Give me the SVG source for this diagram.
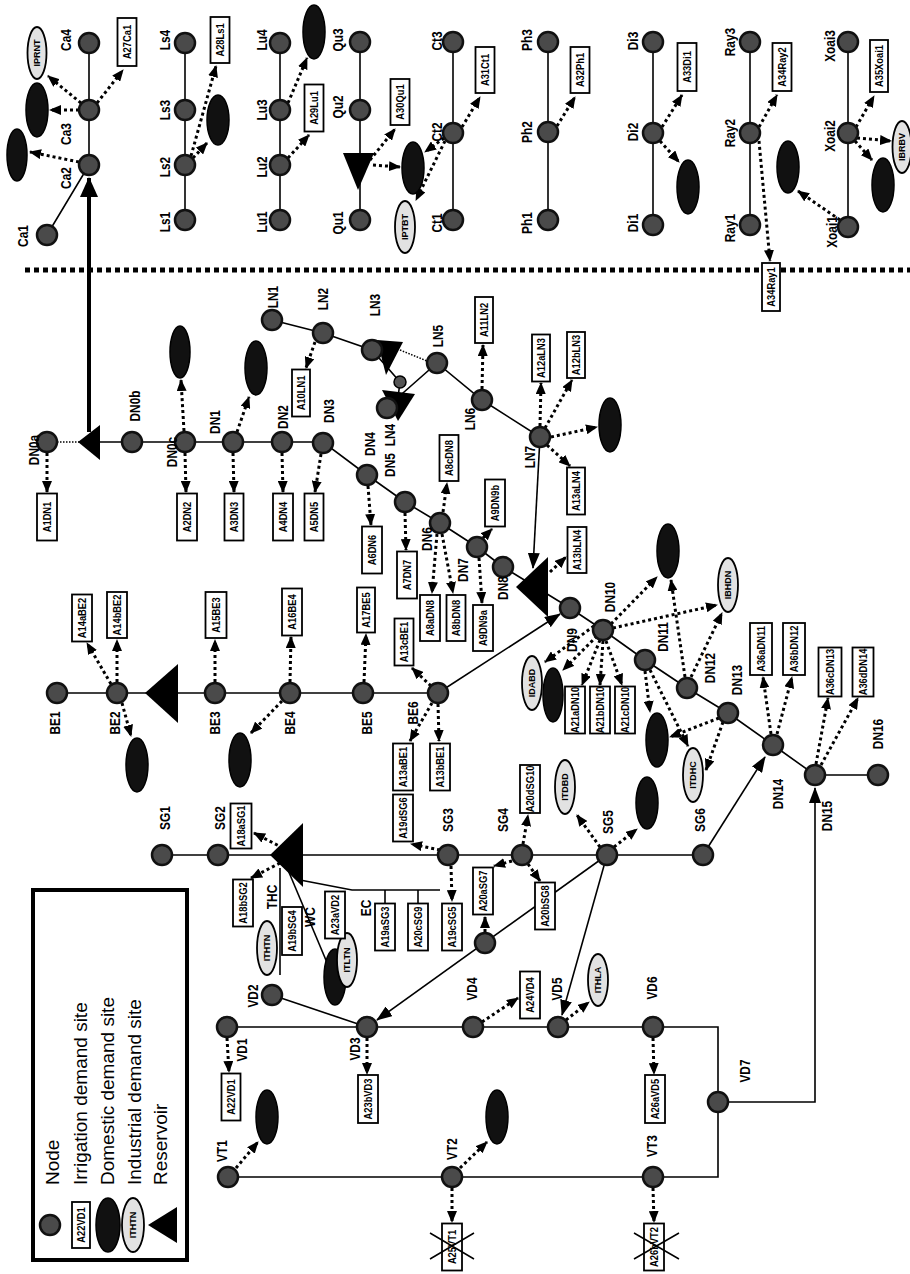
<svg xmlns="http://www.w3.org/2000/svg" width="910" height="1274" viewBox="0 0 910 1274">
<defs>
<style>
.nd{fill:#4a4a4a;stroke:#111;stroke-width:2.5}
.lb{font-family:"Liberation Sans",Arial,sans-serif;font-weight:bold;font-size:14.5px;text-anchor:middle;dominant-baseline:central;fill:#000}
.bx{fill:#fff;stroke:#000;stroke-width:1.8}
.bt{font-family:"Liberation Sans",Arial,sans-serif;font-weight:bold;font-size:11px;text-anchor:middle;dominant-baseline:central}
.dm{fill:#111;stroke:#000;stroke-width:1.5}
.in{fill:#e2e2e2;stroke:#000;stroke-width:1.8}
.it{font-family:"Liberation Sans",Arial,sans-serif;font-weight:bold;font-size:9px;text-anchor:middle;dominant-baseline:central}
.rs{fill:#000}
.ln{stroke:#000;stroke-width:1.6;fill:none}
.la{stroke:#000;stroke-width:1.6;fill:none;marker-end:url(#sa)}
.da{stroke:#000;stroke-width:3;stroke-dasharray:3 3;fill:none;marker-end:url(#dh)}
.th{stroke:#000;stroke-width:1.5;stroke-dasharray:1.5 1.5;fill:none}
.lg{font-family:"Liberation Sans",Arial,sans-serif;font-size:19px;dominant-baseline:central}
.x{stroke:#000;stroke-width:1.5}
</style>
<marker id="dh" markerUnits="userSpaceOnUse" markerWidth="12" markerHeight="10" viewBox="0 0 12 10" refX="11" refY="5" orient="auto"><path d="M0,0 L12,5 L0,10 z"/></marker>
<marker id="sa" markerUnits="userSpaceOnUse" markerWidth="16" markerHeight="12" viewBox="0 0 16 12" refX="15" refY="6" orient="auto"><path d="M0,0 L16,6 L0,12 z"/></marker>
<marker id="ta" markerUnits="userSpaceOnUse" markerWidth="20" markerHeight="18" viewBox="0 0 20 18" refX="19" refY="9" orient="auto"><path d="M0,0 L20,9 L0,18 z"/></marker>
</defs>
<rect width="910" height="1274" fill="#fff"/>

<g id="connectors">
<path class="ln" d="M47,235 L89,165 V43"/>
<path class="ln" d="M185,220 V43"/>
<path class="ln" d="M280,220 V43"/>
<path class="ln" d="M360,220 V42"/>
<path class="ln" d="M453,220 V42"/>
<path class="ln" d="M548,220 V42"/>
<path class="ln" d="M653,225 V42"/>
<path class="ln" d="M750,225 V42"/>
<path class="ln" d="M848,227 V42"/>
<path d="M89,432 V178" stroke="#000" stroke-width="4" fill="none" marker-end="url(#ta)"/>
<path d="M25,270 H910" stroke="#000" stroke-width="5" stroke-dasharray="5 4"/>

<path class="th" d="M57,442 H79"/>
<path class="ln" d="M100,442 H323 L367,475 L405,502 L440,523 L477,547 L503,567 L570,608 L603,630 L645,660 L687,688 L728,713 L773,745 L815,775 H878"/>
<path class="ln" d="M272,320 L323,333 L372,350 L400,382 L397,405"/>
<path class="ln" d="M395,400 L437,363 L482,400 L540,437"/>
<path class="th" d="M400,350 L427,361"/>
<path class="la" d="M540,437 L533,568"/>
<path class="ln" d="M57,693 H438"/>
<path class="la" d="M438,693 L560,614"/>
<path class="ln" d="M162,855 H703"/>
<path class="la" d="M703,855 L765,757"/>
<path class="la" d="M607,855 L562,1015"/>
<path class="la" d="M607,855 L377,1020"/>
<path class="ln" d="M227,1027 H718 V1177 H228"/>
<path class="ln" d="M272,995 L367,1027"/>
<path class="la" d="M718,1102 H815 V788"/>
<path class="ln" d="M280,868 V975"/>
<path class="ln" d="M288,870 L328,965"/>
<path class="ln" d="M300,880 L352,890 H440 M385,890 V903 M418,890 V903"/>

<path class="da" d="M79,162 L30,152"/>
<path class="da" d="M79,110 L50,110"/>
<path class="da" d="M81,103 L48,76"/>
<path class="da" d="M97,103 L123,70"/>
<path class="da" d="M193,158 L207,143"/>
<path class="da" d="M191,156 L216,66"/>
<path class="da" d="M288,103 L307,58"/>
<path class="da" d="M288,158 L309,135"/>
<path class="da" d="M370,160 L395,129"/>
<path class="da" d="M373,165 L400,167"/>
<path class="da" d="M444,138 L425,152"/>
<path class="da" d="M445,141 L416,200"/>
<path class="da" d="M462,127 L480,97"/>
<path class="da" d="M557,126 L575,97"/>
<path class="da" d="M662,127 L682,95"/>
<path class="da" d="M660,141 L679,162"/>
<path class="da" d="M759,127 L777,95"/>
<path class="da" d="M759,141 L770,261"/>
<path class="da" d="M856,127 L874,96"/>
<path class="da" d="M857,138 L891,141"/>
<path class="da" d="M855,141 L872,160"/>
<path class="da" d="M840,220 L798,191"/>

<path class="da" d="M47,453 L47,492"/>
<path class="da" d="M185,453 L186,492"/>
<path class="da" d="M184,431 L181,380"/>
<path class="da" d="M233,453 L234,492"/>
<path class="da" d="M237,432 L249,397"/>
<path class="da" d="M282,453 L283,492"/>
<path class="da" d="M321,454 L315,492"/>
<path class="da" d="M368,486 L371,525"/>
<path class="da" d="M405,513 L406,550"/>
<path class="da" d="M443,512 L447,483"/>
<path class="da" d="M437,534 L432,593"/>
<path class="da" d="M442,534 L453,593"/>
<path class="da" d="M483,538 L492,529"/>
<path class="da" d="M479,558 L482,603"/>
<path class="da" d="M315,342 L306,368"/>
<path class="da" d="M482,389 L483,345"/>
<path class="da" d="M540,426 L541,383"/>
<path class="da" d="M545,428 L572,380"/>
<path class="da" d="M551,437 L597,427"/>
<path class="da" d="M547,445 L570,466"/>
<path class="da" d="M550,572 L566,557"/>

<path class="da" d="M111,684 L87,643"/>
<path class="da" d="M117,682 L117,640"/>
<path class="da" d="M122,703 L131,736"/>
<path class="da" d="M215,682 L215,640"/>
<path class="da" d="M290,682 L291,637"/>
<path class="da" d="M282,701 L251,733"/>
<path class="da" d="M364,682 L366,634"/>
<path class="da" d="M431,686 L412,668"/>
<path class="da" d="M432,703 L410,741"/>
<path class="da" d="M438,704 L439,741"/>

<path class="da" d="M283,848 L254,833"/>
<path class="da" d="M280,863 L251,878"/>
<path class="da" d="M440,850 L411,844"/>
<path class="da" d="M451,866 L452,901"/>
<path class="da" d="M523,844 L528,815"/>
<path class="da" d="M512,861 L494,866"/>
<path class="da" d="M528,864 L540,881"/>
<path class="da" d="M485,932 L485,917"/>
<path class="da" d="M600,847 L577,815"/>
<path class="da" d="M614,847 L637,829"/>

<path class="da" d="M611,624 L657,577"/>
<path class="da" d="M613,628 L717,605"/>
<path class="da" d="M685,677 L671,580"/>
<path class="da" d="M691,677 L722,613"/>
<path class="da" d="M594,626 L545,662"/>
<path class="da" d="M597,636 L563,670"/>
<path class="da" d="M600,640 L582,685"/>
<path class="da" d="M603,641 L600,685"/>
<path class="da" d="M606,641 L622,685"/>
<path class="da" d="M645,671 L650,712"/>
<path class="da" d="M719,718 L670,737"/>
<path class="da" d="M650,670 L688,746"/>
<path class="da" d="M723,722 L706,770"/>
<path class="da" d="M771,734 L763,677"/>
<path class="da" d="M777,734 L792,677"/>
<path class="da" d="M816,764 L828,698"/>
<path class="da" d="M821,765 L858,698"/>

<path class="da" d="M227,1038 L229,1072"/>
<path class="da" d="M236,1168 L258,1142"/>
<path class="da" d="M367,1038 L367,1074"/>
<path class="da" d="M482,1022 L518,998"/>
<path class="da" d="M566,1020 L589,1002"/>
<path class="da" d="M460,1168 L487,1142"/>
<path class="da" d="M452,1188 L452,1222"/>
<path class="da" d="M653,1038 L654,1074"/>
<path class="da" d="M653,1188 L654,1222"/>
</g>

<g id="reservoirs">
<polygon id="res-Qu" class="rs" points="343,153 374,153 358,190"/>
<polygon id="res-DN0" class="rs" points="78,442 100,425 100,460"/>
<polygon id="res-LN3" class="rs" points="377,340 403,342 386,375"/>
<polygon id="res-LN4" class="rs" points="382,390 415,394 398,421"/>
<polygon id="res-DN8" class="rs" points="516,587 548,557 548,617"/>
<polygon id="res-BE" class="rs" points="145,693 178,664 178,723"/>
<polygon id="res-SG" class="rs" points="270,855 303,823 303,887"/>
<circle cx="400" cy="382" r="6" fill="#555" stroke="#000" stroke-width="1.5"/>
</g>

<g id="nodes">
<g id="Ca1"><circle class="nd" cx="47" cy="235" r="10"/><text class="lb" transform="translate(23,236) rotate(-90) scale(.82,1)">Ca1</text></g>
<g id="Ca2"><circle class="nd" cx="89" cy="165" r="10"/><text class="lb" transform="translate(66,178) rotate(-90) scale(.82,1)">Ca2</text></g>
<g id="Ca3"><circle class="nd" cx="89" cy="110" r="10"/><text class="lb" transform="translate(66,134) rotate(-90) scale(.82,1)">Ca3</text></g>
<g id="Ca4"><circle class="nd" cx="89" cy="43" r="10"/><text class="lb" transform="translate(66,40) rotate(-90) scale(.82,1)">Ca4</text></g>
<g id="Ls1"><circle class="nd" cx="185" cy="220" r="10"/><text class="lb" transform="translate(165,222) rotate(-90) scale(.82,1)">Ls1</text></g>
<g id="Ls2"><circle class="nd" cx="185" cy="165" r="10"/><text class="lb" transform="translate(165,167) rotate(-90) scale(.82,1)">Ls2</text></g>
<g id="Ls3"><circle class="nd" cx="185" cy="110" r="10"/><text class="lb" transform="translate(165,110) rotate(-90) scale(.82,1)">Ls3</text></g>
<g id="Ls4"><circle class="nd" cx="185" cy="43" r="10"/><text class="lb" transform="translate(165,40) rotate(-90) scale(.82,1)">Ls4</text></g>
<g id="Lu1"><circle class="nd" cx="280" cy="220" r="10"/><text class="lb" transform="translate(262,222) rotate(-90) scale(.82,1)">Lu1</text></g>
<g id="Lu2"><circle class="nd" cx="280" cy="165" r="10"/><text class="lb" transform="translate(262,167) rotate(-90) scale(.82,1)">Lu2</text></g>
<g id="Lu3"><circle class="nd" cx="280" cy="110" r="10"/><text class="lb" transform="translate(262,110) rotate(-90) scale(.82,1)">Lu3</text></g>
<g id="Lu4"><circle class="nd" cx="280" cy="43" r="10"/><text class="lb" transform="translate(262,40) rotate(-90) scale(.82,1)">Lu4</text></g>
<g id="Qu1"><circle class="nd" cx="360" cy="220" r="10"/><text class="lb" transform="translate(338,223) rotate(-90) scale(.82,1)">Qu1</text></g>
<g id="Qu2"><circle class="nd" cx="360" cy="110" r="10"/><text class="lb" transform="translate(338,107) rotate(-90) scale(.82,1)">Qu2</text></g>
<g id="Qu3"><circle class="nd" cx="360" cy="42" r="10"/><text class="lb" transform="translate(338,40) rotate(-90) scale(.82,1)">Qu3</text></g>
<g id="Ct1"><circle class="nd" cx="453" cy="220" r="10"/><text class="lb" transform="translate(437,223) rotate(-90) scale(.82,1)">Ct1</text></g>
<g id="Ct2"><circle class="nd" cx="453" cy="133" r="10"/><text class="lb" transform="translate(437,132) rotate(-90) scale(.82,1)">Ct2</text></g>
<g id="Ct3"><circle class="nd" cx="453" cy="42" r="10"/><text class="lb" transform="translate(437,41) rotate(-90) scale(.82,1)">Ct3</text></g>
<g id="Ph1"><circle class="nd" cx="548" cy="220" r="10"/><text class="lb" transform="translate(527,223) rotate(-90) scale(.82,1)">Ph1</text></g>
<g id="Ph2"><circle class="nd" cx="548" cy="132" r="10"/><text class="lb" transform="translate(527,132) rotate(-90) scale(.82,1)">Ph2</text></g>
<g id="Ph3"><circle class="nd" cx="548" cy="42" r="10"/><text class="lb" transform="translate(527,40) rotate(-90) scale(.82,1)">Ph3</text></g>
<g id="Di1"><circle class="nd" cx="653" cy="225" r="10"/><text class="lb" transform="translate(633,223) rotate(-90) scale(.82,1)">Di1</text></g>
<g id="Di2"><circle class="nd" cx="653" cy="133" r="10"/><text class="lb" transform="translate(633,132) rotate(-90) scale(.82,1)">Di2</text></g>
<g id="Di3"><circle class="nd" cx="653" cy="42" r="10"/><text class="lb" transform="translate(633,41) rotate(-90) scale(.82,1)">Di3</text></g>
<g id="Ray1"><circle class="nd" cx="750" cy="225" r="10"/><text class="lb" transform="translate(730,228) rotate(-90) scale(.82,1)">Ray1</text></g>
<g id="Ray2"><circle class="nd" cx="750" cy="133" r="10"/><text class="lb" transform="translate(730,133) rotate(-90) scale(.82,1)">Ray2</text></g>
<g id="Ray3"><circle class="nd" cx="750" cy="42" r="10"/><text class="lb" transform="translate(730,42) rotate(-90) scale(.82,1)">Ray3</text></g>
<g id="Xoai1"><circle class="nd" cx="848" cy="227" r="10"/><text class="lb" transform="translate(832,232) rotate(-90) scale(.82,1)">Xoai1</text></g>
<g id="Xoai2"><circle class="nd" cx="848" cy="133" r="10"/><text class="lb" transform="translate(830,136) rotate(-90) scale(.82,1)">Xoai2</text></g>
<g id="Xoai3"><circle class="nd" cx="848" cy="42" r="10"/><text class="lb" transform="translate(830,46) rotate(-90) scale(.82,1)">Xoai3</text></g>

<g id="DN0a"><circle class="nd" cx="47" cy="442" r="10"/><text class="lb" transform="translate(34,450) rotate(-90) scale(.82,1)">DN0a</text></g>
<g id="DN0b"><circle class="nd" cx="132" cy="442" r="10"/><text class="lb" transform="translate(135,406) rotate(-90) scale(.82,1)">DN0b</text></g>
<g id="DN0c"><circle class="nd" cx="185" cy="442" r="10"/><text class="lb" transform="translate(172,452) rotate(-90) scale(.82,1)">DN0c</text></g>
<g id="DN1"><circle class="nd" cx="233" cy="442" r="10"/><text class="lb" transform="translate(215,422) rotate(-90) scale(.82,1)">DN1</text></g>
<g id="DN2"><circle class="nd" cx="282" cy="442" r="10"/><text class="lb" transform="translate(283,417) rotate(-90) scale(.82,1)">DN2</text></g>
<g id="DN3"><circle class="nd" cx="323" cy="443" r="10"/><text class="lb" transform="translate(329,411) rotate(-90) scale(.82,1)">DN3</text></g>
<g id="DN4"><circle class="nd" cx="367" cy="475" r="10"/><text class="lb" transform="translate(370,444) rotate(-90) scale(.82,1)">DN4</text></g>
<g id="DN5"><circle class="nd" cx="405" cy="502" r="10"/><text class="lb" transform="translate(390,465) rotate(-90) scale(.82,1)">DN5</text></g>
<g id="DN6"><circle class="nd" cx="440" cy="523" r="10"/><text class="lb" transform="translate(427,539) rotate(-90) scale(.82,1)">DN6</text></g>
<g id="DN7"><circle class="nd" cx="477" cy="547" r="10"/><text class="lb" transform="translate(463,570) rotate(-90) scale(.82,1)">DN7</text></g>
<g id="DN8"><circle class="nd" cx="503" cy="567" r="10"/><text class="lb" transform="translate(503,588) rotate(-90) scale(.82,1)">DN8</text></g>
<g id="DN9"><circle class="nd" cx="570" cy="608" r="10"/><text class="lb" transform="translate(572,640) rotate(-90) scale(.82,1)">DN9</text></g>
<g id="DN10"><circle class="nd" cx="603" cy="630" r="10"/><text class="lb" transform="translate(610,597) rotate(-90) scale(.82,1)">DN10</text></g>
<g id="DN11"><circle class="nd" cx="645" cy="660" r="10"/><text class="lb" transform="translate(663,637) rotate(-90) scale(.82,1)">DN11</text></g>
<g id="DN12"><circle class="nd" cx="687" cy="688" r="10"/><text class="lb" transform="translate(710,668) rotate(-90) scale(.82,1)">DN12</text></g>
<g id="DN13"><circle class="nd" cx="728" cy="713" r="10"/><text class="lb" transform="translate(737,680) rotate(-90) scale(.82,1)">DN13</text></g>
<g id="DN14"><circle class="nd" cx="773" cy="745" r="10"/><text class="lb" transform="translate(778,794) rotate(-90) scale(.82,1)">DN14</text></g>
<g id="DN15"><circle class="nd" cx="815" cy="775" r="10"/><text class="lb" transform="translate(827,816) rotate(-90) scale(.82,1)">DN15</text></g>
<g id="DN16"><circle class="nd" cx="878" cy="775" r="10"/><text class="lb" transform="translate(878,734) rotate(-90) scale(.82,1)">DN16</text></g>

<g id="LN1"><circle class="nd" cx="272" cy="320" r="10"/><text class="lb" transform="translate(273,297) rotate(-90) scale(.82,1)">LN1</text></g>
<g id="LN2"><circle class="nd" cx="323" cy="333" r="10"/><text class="lb" transform="translate(323,299) rotate(-90) scale(.82,1)">LN2</text></g>
<g id="LN3"><circle class="nd" cx="372" cy="350" r="10"/><text class="lb" transform="translate(375,305) rotate(-90) scale(.82,1)">LN3</text></g>
<g id="LN4"><circle class="nd" cx="387" cy="408" r="10"/><text class="lb" transform="translate(390,435) rotate(-90) scale(.82,1)">LN4</text></g>
<g id="LN5"><circle class="nd" cx="437" cy="363" r="10"/><text class="lb" transform="translate(438,336) rotate(-90) scale(.82,1)">LN5</text></g>
<g id="LN6"><circle class="nd" cx="482" cy="400" r="10"/><text class="lb" transform="translate(470,419) rotate(-90) scale(.82,1)">LN6</text></g>
<g id="LN7"><circle class="nd" cx="540" cy="437" r="10"/><text class="lb" transform="translate(530,457) rotate(-90) scale(.82,1)">LN7</text></g>

<g id="BE1"><circle class="nd" cx="57" cy="693" r="10"/><text class="lb" transform="translate(55,723) rotate(-90) scale(.82,1)">BE1</text></g>
<g id="BE2"><circle class="nd" cx="117" cy="693" r="10"/><text class="lb" transform="translate(115,723) rotate(-90) scale(.82,1)">BE2</text></g>
<g id="BE3"><circle class="nd" cx="215" cy="693" r="10"/><text class="lb" transform="translate(215,723) rotate(-90) scale(.82,1)">BE3</text></g>
<g id="BE4"><circle class="nd" cx="290" cy="693" r="10"/><text class="lb" transform="translate(290,723) rotate(-90) scale(.82,1)">BE4</text></g>
<g id="BE5"><circle class="nd" cx="363" cy="693" r="10"/><text class="lb" transform="translate(367,723) rotate(-90) scale(.82,1)">BE5</text></g>
<g id="BE6"><circle class="nd" cx="438" cy="693" r="10"/><text class="lb" transform="translate(413,713) rotate(-90) scale(.82,1)">BE6</text></g>

<g id="SG1"><circle class="nd" cx="162" cy="855" r="10"/><text class="lb" transform="translate(165,818) rotate(-90) scale(.82,1)">SG1</text></g>
<g id="SG2"><circle class="nd" cx="218" cy="855" r="10"/><text class="lb" transform="translate(220,818) rotate(-90) scale(.82,1)">SG2</text></g>
<g id="SG3"><circle class="nd" cx="448" cy="855" r="10"/><text class="lb" transform="translate(448,820) rotate(-90) scale(.82,1)">SG3</text></g>
<g id="SG4"><circle class="nd" cx="522" cy="855" r="10"/><text class="lb" transform="translate(503,820) rotate(-90) scale(.82,1)">SG4</text></g>
<g id="SG5"><circle class="nd" cx="607" cy="855" r="10"/><text class="lb" transform="translate(608,822) rotate(-90) scale(.82,1)">SG5</text></g>
<g id="SG6"><circle class="nd" cx="703" cy="855" r="10"/><text class="lb" transform="translate(700,820) rotate(-90) scale(.82,1)">SG6</text></g>
<g id="SGX"><circle class="nd" cx="485" cy="943" r="10"/></g>
<g id="THC"><text class="lb" transform="translate(272,897) rotate(-90) scale(.82,1)">THC</text></g>
<g id="WC"><text class="lb" transform="translate(310,917) rotate(-90) scale(.82,1)">WC</text></g>
<g id="EC"><text class="lb" transform="translate(366,908) rotate(-90) scale(.82,1)">EC</text></g>

<g id="VD1"><circle class="nd" cx="227" cy="1027" r="10"/><text class="lb" transform="translate(242,1050) rotate(-90) scale(.82,1)">VD1</text></g>
<g id="VD2"><circle class="nd" cx="272" cy="995" r="10"/><text class="lb" transform="translate(253,996) rotate(-90) scale(.82,1)">VD2</text></g>
<g id="VD3"><circle class="nd" cx="367" cy="1027" r="10"/><text class="lb" transform="translate(355,1049) rotate(-90) scale(.82,1)">VD3</text></g>
<g id="VD4"><circle class="nd" cx="473" cy="1027" r="10"/><text class="lb" transform="translate(472,989) rotate(-90) scale(.82,1)">VD4</text></g>
<g id="VD5"><circle class="nd" cx="558" cy="1027" r="10"/><text class="lb" transform="translate(557,989) rotate(-90) scale(.82,1)">VD5</text></g>
<g id="VD6"><circle class="nd" cx="653" cy="1027" r="10"/><text class="lb" transform="translate(652,988) rotate(-90) scale(.82,1)">VD6</text></g>
<g id="VD7"><circle class="nd" cx="718" cy="1102" r="10"/><text class="lb" transform="translate(745,1071) rotate(-90) scale(.82,1)">VD7</text></g>
<g id="VT1"><circle class="nd" cx="228" cy="1177" r="10"/><text class="lb" transform="translate(222,1151) rotate(-90) scale(.82,1)">VT1</text></g>
<g id="VT2"><circle class="nd" cx="452" cy="1177" r="10"/><text class="lb" transform="translate(452,1149) rotate(-90) scale(.82,1)">VT2</text></g>
<g id="VT3"><circle class="nd" cx="653" cy="1177" r="10"/><text class="lb" transform="translate(652,1146) rotate(-90) scale(.82,1)">VT3</text></g>
</g>

<g id="domestic">
<ellipse class="dm" cx="17" cy="155" rx="10" ry="26"/>
<ellipse class="dm" cx="37" cy="110" rx="11" ry="27"/>
<ellipse class="dm" cx="218" cy="120" rx="11" ry="25"/>
<ellipse class="dm" cx="314" cy="32" rx="11" ry="27"/>
<ellipse class="dm" cx="413" cy="168" rx="11" ry="26"/>
<ellipse class="dm" cx="688" cy="187" rx="11" ry="27"/>
<ellipse class="dm" cx="788" cy="167" rx="11" ry="26"/>
<ellipse class="dm" cx="883" cy="185" rx="11" ry="27"/>
<ellipse class="dm" cx="180" cy="352" rx="10" ry="26"/>
<ellipse class="dm" cx="256" cy="368" rx="11" ry="27"/>
<ellipse class="dm" cx="610" cy="425" rx="11" ry="27"/>
<ellipse class="dm" cx="137" cy="765" rx="11" ry="27"/>
<ellipse class="dm" cx="240" cy="760" rx="11" ry="27"/>
<ellipse class="dm" cx="668" cy="551" rx="11" ry="27"/>
<ellipse class="dm" cx="553" cy="695" rx="10" ry="27"/>
<ellipse class="dm" cx="657" cy="740" rx="11" ry="27"/>
<ellipse class="dm" cx="647" cy="803" rx="11" ry="26"/>
<ellipse class="dm" cx="335" cy="977" rx="11" ry="28"/>
<ellipse class="dm" cx="267" cy="1117" rx="11" ry="27"/>
<ellipse class="dm" cx="497" cy="1117" rx="11" ry="27"/>
</g>

<g id="industrial">
<g id="IPRNT" transform="translate(37,53)"><ellipse class="in" rx="9.5" ry="26"/><text class="it" transform="rotate(-90)">IPRNT</text></g>
<g id="IPTBT" transform="translate(405,227)"><ellipse class="in" rx="10" ry="26"/><text class="it" transform="rotate(-90)">IPTBT</text></g>
<g id="IBRBV" transform="translate(902,147)"><ellipse class="in" rx="9.5" ry="26"/><text class="it" transform="rotate(-90)">IBRBV</text></g>
<g id="IBHDN" transform="translate(728,585)"><ellipse class="in" rx="10" ry="27"/><text class="it" transform="rotate(-90)">IBHDN</text></g>
<g id="IDABD" transform="translate(532,683)"><ellipse class="in" rx="10" ry="27"/><text class="it" transform="rotate(-90)">IDABD</text></g>
<g id="ITDHC" transform="translate(693,775)"><ellipse class="in" rx="10" ry="27"/><text class="it" transform="rotate(-90)">ITDHC</text></g>
<g id="ITDBD" transform="translate(565,787)"><ellipse class="in" rx="10" ry="27"/><text class="it" transform="rotate(-90)">ITDBD</text></g>
<g id="ITHTN" transform="translate(267,948)"><ellipse class="in" rx="10" ry="27"/><text class="it" transform="rotate(-90)">ITHTN</text></g>
<g id="ITLTN" transform="translate(347,960)"><ellipse class="in" rx="10" ry="27"/><text class="it" transform="rotate(-90)">ITLTN</text></g>
<g id="ITHLA" transform="translate(598,980)"><ellipse class="in" rx="10" ry="26"/><text class="it" transform="rotate(-90)">ITHLA</text></g>
</g>

<g id="irrigation">
<g transform="translate(127,42)"><rect class="bx" x="-9.5" y="-24" width="19" height="48"/><text class="bt" transform="rotate(-90) scale(.85,1)">A27Ca1</text></g>
<g transform="translate(220,40)"><rect class="bx" x="-9.5" y="-23" width="19" height="46"/><text class="bt" transform="rotate(-90) scale(.85,1)">A28Ls1</text></g>
<g transform="translate(314,108)"><rect class="bx" x="-9.5" y="-23.5" width="19" height="47"/><text class="bt" transform="rotate(-90) scale(.85,1)">A29Lu1</text></g>
<g transform="translate(400,102)"><rect class="bx" x="-9.5" y="-23" width="19" height="46"/><text class="bt" transform="rotate(-90) scale(.85,1)">A30Qu1</text></g>
<g transform="translate(485,70)"><rect class="bx" x="-9.5" y="-23" width="19" height="46"/><text class="bt" transform="rotate(-90) scale(.85,1)">A31Ct1</text></g>
<g transform="translate(580,70)"><rect class="bx" x="-9.5" y="-23" width="19" height="46"/><text class="bt" transform="rotate(-90) scale(.85,1)">A32Ph1</text></g>
<g transform="translate(687,67)"><rect class="bx" x="-9.5" y="-24" width="19" height="48"/><text class="bt" transform="rotate(-90) scale(.85,1)">A33Di1</text></g>
<g transform="translate(782,67)"><rect class="bx" x="-9.5" y="-24" width="19" height="48"/><text class="bt" transform="rotate(-90) scale(.85,1)">A34Ray2</text></g>
<g transform="translate(771,287)"><rect class="bx" x="-9" y="-24" width="18" height="48"/><text class="bt" transform="rotate(-90) scale(.85,1)">A34Ray1</text></g>
<g transform="translate(879,66)"><rect class="bx" x="-9" y="-26" width="18" height="52"/><text class="bt" transform="rotate(-90) scale(.85,1)">A35Xoai1</text></g>
<g transform="translate(47,517)"><rect class="bx" x="-10" y="-23.5" width="20" height="47"/><text class="bt" transform="rotate(-90) scale(.85,1)">A1DN1</text></g>
<g transform="translate(187,517)"><rect class="bx" x="-10" y="-23.5" width="20" height="47"/><text class="bt" transform="rotate(-90) scale(.85,1)">A2DN2</text></g>
<g transform="translate(234,517)"><rect class="bx" x="-9.5" y="-23.5" width="19" height="47"/><text class="bt" transform="rotate(-90) scale(.85,1)">A3DN3</text></g>
<g transform="translate(283,517)"><rect class="bx" x="-10" y="-23.5" width="20" height="47"/><text class="bt" transform="rotate(-90) scale(.85,1)">A4DN4</text></g>
<g transform="translate(314,517)"><rect class="bx" x="-9.5" y="-23.5" width="19" height="47"/><text class="bt" transform="rotate(-90) scale(.85,1)">A5DN5</text></g>
<g transform="translate(372,550)"><rect class="bx" x="-10" y="-23.5" width="20" height="47"/><text class="bt" transform="rotate(-90) scale(.85,1)">A6DN6</text></g>
<g transform="translate(407,575)"><rect class="bx" x="-10" y="-23.5" width="20" height="47"/><text class="bt" transform="rotate(-90) scale(.85,1)">A7DN7</text></g>
<g transform="translate(449,458)"><rect class="bx" x="-9.5" y="-23" width="19" height="46"/><text class="bt" transform="rotate(-90) scale(.85,1)">A8cDN8</text></g>
<g transform="translate(430,618)"><rect class="bx" x="-10" y="-23" width="20" height="46"/><text class="bt" transform="rotate(-90) scale(.85,1)">A8aDN8</text></g>
<g transform="translate(456,618)"><rect class="bx" x="-9.5" y="-23" width="19" height="46"/><text class="bt" transform="rotate(-90) scale(.85,1)">A8bDN8</text></g>
<g transform="translate(495,503)"><rect class="bx" x="-10" y="-23.5" width="20" height="47"/><text class="bt" transform="rotate(-90) scale(.85,1)">A9DN9b</text></g>
<g transform="translate(483,628)"><rect class="bx" x="-10" y="-23" width="20" height="46"/><text class="bt" transform="rotate(-90) scale(.85,1)">A9DN9a</text></g>
<g transform="translate(301,393)"><rect class="bx" x="-9" y="-23.5" width="18" height="47"/><text class="bt" transform="rotate(-90) scale(.85,1)">A10LN1</text></g>
<g transform="translate(484,320)"><rect class="bx" x="-9" y="-23" width="18" height="46"/><text class="bt" transform="rotate(-90) scale(.85,1)">A11LN2</text></g>
<g transform="translate(541,358)"><rect class="bx" x="-9" y="-23.5" width="18" height="47"/><text class="bt" transform="rotate(-90) scale(.85,1)">A12aLN3</text></g>
<g transform="translate(576,355)"><rect class="bx" x="-9" y="-23" width="18" height="46"/><text class="bt" transform="rotate(-90) scale(.85,1)">A12bLN3</text></g>
<g transform="translate(576,491)"><rect class="bx" x="-9" y="-23.5" width="18" height="47"/><text class="bt" transform="rotate(-90) scale(.85,1)">A13aLN4</text></g>
<g transform="translate(577,550)"><rect class="bx" x="-9.5" y="-23" width="19" height="46"/><text class="bt" transform="rotate(-90) scale(.85,1)">A13bLN4</text></g>
<g transform="translate(82,618)"><rect class="bx" x="-10" y="-23.5" width="20" height="47"/><text class="bt" transform="rotate(-90) scale(.85,1)">A14aBE2</text></g>
<g transform="translate(117,615)"><rect class="bx" x="-10" y="-23" width="20" height="46"/><text class="bt" transform="rotate(-90) scale(.85,1)">A14bBE2</text></g>
<g transform="translate(216,615)"><rect class="bx" x="-10.5" y="-23" width="21" height="46"/><text class="bt" transform="rotate(-90) scale(.85,1)">A15BE3</text></g>
<g transform="translate(292,612)"><rect class="bx" x="-10" y="-23.5" width="20" height="47"/><text class="bt" transform="rotate(-90) scale(.85,1)">A16BE4</text></g>
<g transform="translate(366,610)"><rect class="bx" x="-9" y="-22.5" width="18" height="45"/><text class="bt" transform="rotate(-90) scale(.85,1)">A17BE5</text></g>
<g transform="translate(404,642)"><rect class="bx" x="-9.5" y="-23.5" width="19" height="47"/><text class="bt" transform="rotate(-90) scale(.85,1)">A13cBE1</text></g>
<g transform="translate(403,767)"><rect class="bx" x="-10" y="-23.5" width="20" height="47"/><text class="bt" transform="rotate(-90) scale(.85,1)">A13aBE1</text></g>
<g transform="translate(440,767)"><rect class="bx" x="-10" y="-23.5" width="20" height="47"/><text class="bt" transform="rotate(-90) scale(.85,1)">A13bBE1</text></g>
<g transform="translate(241,826)"><rect class="bx" x="-10.5" y="-22.5" width="21" height="45"/><text class="bt" transform="rotate(-90) scale(.85,1)">A18aSG1</text></g>
<g transform="translate(243,903)"><rect class="bx" x="-10" y="-23.5" width="20" height="47"/><text class="bt" transform="rotate(-90) scale(.85,1)">A18bSG2</text></g>
<g transform="translate(403,818)"><rect class="bx" x="-10" y="-23.5" width="20" height="47"/><text class="bt" transform="rotate(-90) scale(.85,1)">A19dSG6</text></g>
<g transform="translate(452,927)"><rect class="bx" x="-10" y="-23.5" width="20" height="47"/><text class="bt" transform="rotate(-90) scale(.85,1)">A19cSG5</text></g>
<g transform="translate(385,927)"><rect class="bx" x="-10" y="-23.5" width="20" height="47"/><text class="bt" transform="rotate(-90) scale(.85,1)">A19aSG3</text></g>
<g transform="translate(418,927)"><rect class="bx" x="-10" y="-23.5" width="20" height="47"/><text class="bt" transform="rotate(-90) scale(.85,1)">A20cSG9</text></g>
<g transform="translate(292,931)"><rect class="bx" x="-10" y="-24" width="20" height="48"/><text class="bt" transform="rotate(-90) scale(.85,1)">A19bSG4</text></g>
<g transform="translate(335,915)"><rect class="bx" x="-10" y="-23.5" width="20" height="47"/><text class="bt" transform="rotate(-90) scale(.85,1)">A23aVD2</text></g>
<g transform="translate(530,789)"><rect class="bx" x="-10" y="-24" width="20" height="48"/><text class="bt" transform="rotate(-90) scale(.85,1)">A20dSG10</text></g>
<g transform="translate(483,891)"><rect class="bx" x="-10" y="-23.5" width="20" height="47"/><text class="bt" transform="rotate(-90) scale(.85,1)">A20aSG7</text></g>
<g transform="translate(545,906)"><rect class="bx" x="-10" y="-23.5" width="20" height="47"/><text class="bt" transform="rotate(-90) scale(.85,1)">A20bSG8</text></g>
<g transform="translate(575,710)"><rect class="bx" x="-10" y="-23.5" width="20" height="47"/><text class="bt" transform="rotate(-90) scale(.85,1)">A21aDN10</text></g>
<g transform="translate(600,710)"><rect class="bx" x="-10" y="-23.5" width="20" height="47"/><text class="bt" transform="rotate(-90) scale(.85,1)">A21bDN10</text></g>
<g transform="translate(625,710)"><rect class="bx" x="-10" y="-23.5" width="20" height="47"/><text class="bt" transform="rotate(-90) scale(.85,1)">A21cDN10</text></g>
<g transform="translate(761,649)"><rect class="bx" x="-11" y="-26" width="22" height="52"/><text class="bt" transform="rotate(-90) scale(.85,1)">A36aDN11</text></g>
<g transform="translate(794,649)"><rect class="bx" x="-11" y="-26" width="22" height="52"/><text class="bt" transform="rotate(-90) scale(.85,1)">A36bDN12</text></g>
<g transform="translate(830,672)"><rect class="bx" x="-11.5" y="-24.5" width="23" height="49"/><text class="bt" transform="rotate(-90) scale(.85,1)">A36cDN13</text></g>
<g transform="translate(863,672)"><rect class="bx" x="-10.5" y="-24.5" width="21" height="49"/><text class="bt" transform="rotate(-90) scale(.85,1)">A36dDN14</text></g>
<g transform="translate(231,1097)"><rect class="bx" x="-9.5" y="-23.5" width="19" height="47"/><text class="bt" transform="rotate(-90) scale(.85,1)">A22VD1</text></g>
<g transform="translate(368,1099)"><rect class="bx" x="-10" y="-24" width="20" height="48"/><text class="bt" transform="rotate(-90) scale(.85,1)">A23bVD3</text></g>
<g transform="translate(530,995)"><rect class="bx" x="-10" y="-23.5" width="20" height="47"/><text class="bt" transform="rotate(-90) scale(.85,1)">A24VD4</text></g>
<g transform="translate(655,1099)"><rect class="bx" x="-10" y="-24" width="20" height="48"/><text class="bt" transform="rotate(-90) scale(.85,1)">A26aVD5</text></g>
<g transform="translate(452,1247)"><rect class="bx" x="-10" y="-23.5" width="20" height="47"/><text class="bt" transform="rotate(-90) scale(.85,1)">A25VT1</text><path class="x" d="M-22,-14 L22,12 M-22,12 L22,-14"/></g>
<g transform="translate(654,1247)"><rect class="bx" x="-10" y="-23.5" width="20" height="47"/><text class="bt" transform="rotate(-90) scale(.85,1)">A26bVT2</text><path class="x" d="M-20,-14 L25,12 M-20,12 L25,-14"/></g>
</g>

<g id="legend">
<rect x="33" y="890" width="154" height="370" fill="none" stroke="#000" stroke-width="4"/>
<circle class="nd" cx="50" cy="1225" r="10"/>
<g transform="translate(81,1225)"><rect class="bx" x="-9" y="-23" width="18" height="46"/><text class="bt" transform="rotate(-90) scale(.85,1)">A22VD1</text></g>
<ellipse class="dm" cx="108" cy="1225" rx="12" ry="27"/>
<g transform="translate(133,1225)"><ellipse class="in" rx="11" ry="27"/><text class="it" transform="rotate(-90)">ITHTN</text></g>
<polygon class="rs" points="148,1225 177,1207 177,1243"/>
<text class="lg" transform="translate(52,1185) rotate(-90)">Node</text>
<text class="lg" transform="translate(80,1185) rotate(-90)">Irrigation demand site</text>
<text class="lg" transform="translate(107,1185) rotate(-90)">Domestic demand site</text>
<text class="lg" transform="translate(134,1185) rotate(-90)">Industrial demand site</text>
<text class="lg" transform="translate(160,1185) rotate(-90)">Reservoir</text>
</g>
</svg>
